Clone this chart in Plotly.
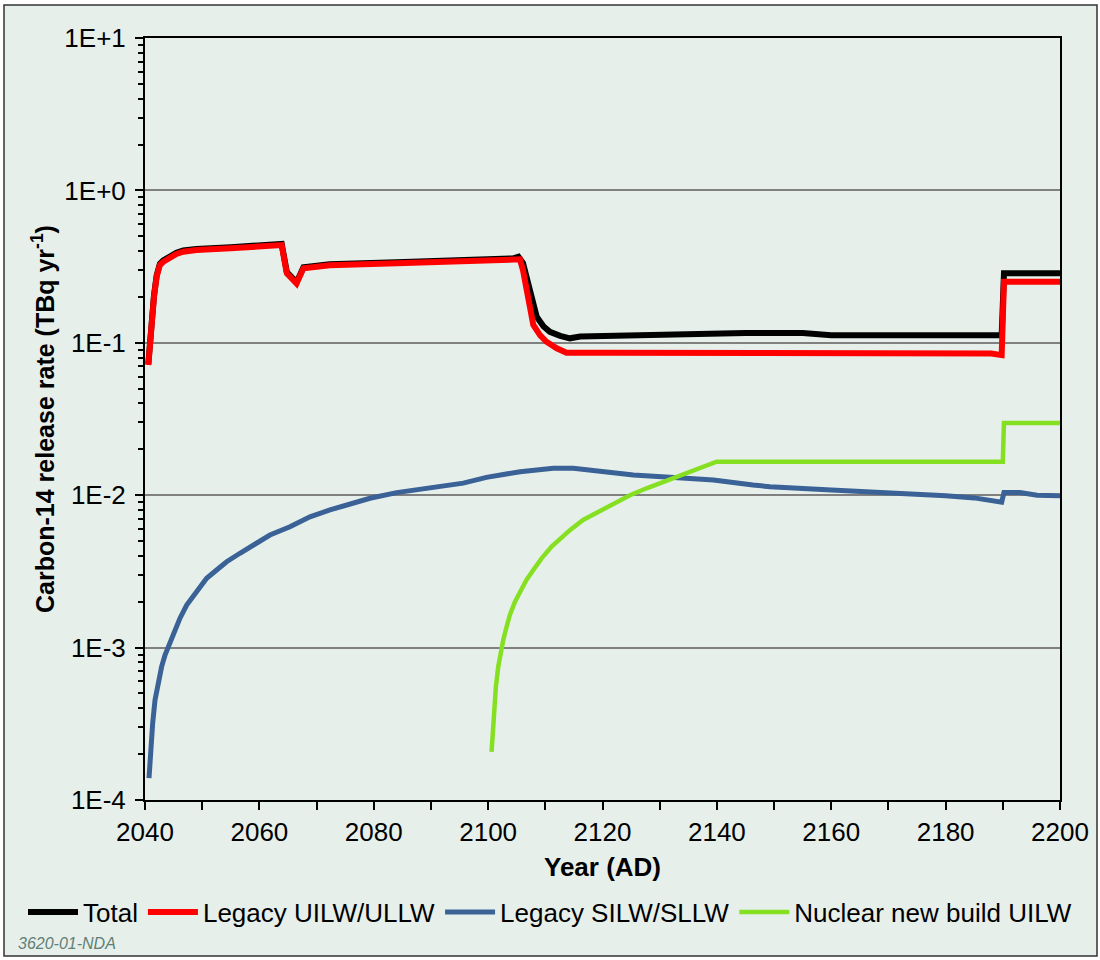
import plotly.graph_objects as go

# ---- Carbon-14 release rate series (TBq/yr) ----
total_year = [2040.58, 2040.87, 2041.17, 2041.57, 2042.04, 2042.6, 2043.2, 2044.4,
              2045.5, 2046.7, 2049.0, 2055, 2060, 2063.9,
              2064.8, 2066.5, 2067.7, 2072.3, 2084, 2095.6, 2104.4, 2105.3,
              2106.1, 2107.3, 2108.5, 2109.7, 2110.8, 2112.6, 2114.3, 2116.1,
              2124.8, 2133.5, 2145, 2155, 2160, 2175, 2189.8, 2190.2, 2200]
total_rate = [0.0725, 0.106, 0.151, 0.204, 0.277, 0.330, 0.347, 0.374,
              0.390, 0.403, 0.413, 0.424, 0.432, 0.445,
              0.291, 0.249, 0.313, 0.328, 0.338, 0.346, 0.358, 0.367,
              0.334, 0.222, 0.148, 0.128, 0.118, 0.111, 0.107, 0.110,
              0.1125, 0.114, 0.116, 0.116, 0.112, 0.112, 0.112, 0.286, 0.286]

uilw_year = [2040.58, 2040.87, 2041.17, 2041.57, 2042.04, 2042.6, 2043.2, 2044.4,
             2045.5, 2046.7, 2049.0, 2055, 2060, 2063.9,
             2064.8, 2066.5, 2067.7, 2072.3, 2084, 2095.6, 2104.1, 2105.56,
             2106.1, 2107.0, 2107.9, 2109.1, 2110.2, 2112.0, 2113.7, 2120,
             2140, 2160, 2180, 2188, 2189.8, 2190.2, 2200]
uilw_rate = [0.0714, 0.104, 0.148, 0.200, 0.272, 0.324, 0.340, 0.367,
             0.383, 0.396, 0.406, 0.417, 0.426, 0.438,
             0.286, 0.245, 0.308, 0.323, 0.333, 0.340, 0.349, 0.353,
             0.300, 0.200, 0.131, 0.112, 0.1016, 0.092, 0.086, 0.086,
             0.086, 0.086, 0.086, 0.085, 0.083, 0.252, 0.252]

silw_year = [2040.70, 2040.87, 2041.05, 2041.34, 2041.75, 2042.33, 2042.91, 2043.5,
             2044.08, 2044.95, 2046.12, 2047.29, 2049.04, 2050.78, 2052.53, 2054.28,
             2056.6, 2058.9, 2061.85, 2065.35, 2068.85, 2072.34, 2075.84, 2079.34,
             2084.0, 2089.8, 2095.65, 2099.7, 2102.6, 2105.6, 2108.5, 2111.4,
             2114.9, 2117.2, 2120.1, 2125.4, 2131.8, 2139.4, 2146.3, 2149.3,
             2160, 2170, 2180, 2185, 2189.8, 2190.2, 2193, 2196, 2200]
silw_rate = [1.39e-4, 1.83e-4, 2.36e-4, 3.18e-4, 4.53e-4, 6.12e-4, 7.5e-4, 8.94e-4,
             1.01e-3, 1.24e-3, 1.56e-3, 1.9e-3, 2.33e-3, 2.85e-3, 3.23e-3, 3.66e-3,
             4.16e-3, 4.71e-3, 5.48e-3, 6.21e-3, 7.22e-3, 8.0e-3, 8.76e-3, 9.55e-3,
             1.04e-2, 1.11e-2, 1.2e-2, 1.31e-2, 1.377e-2, 1.426e-2, 1.462e-2, 1.5e-2,
             1.5e-2, 1.462e-2, 1.426e-2, 1.358e-2, 1.31e-2, 1.26e-2, 1.166e-2, 1.138e-2,
             1.08e-2, 1.04e-2, 9.9e-3, 9.6e-3, 9.0e-3, 1.04e-2, 1.04e-2, 1.0e-2, 9.9e-3]

nnb_year = [2100.6, 2100.78, 2101.0, 2101.36, 2101.77, 2102.18, 2102.64, 2103.23,
            2103.8, 2104.7, 2105.56, 2106.7, 2107.9, 2109.35, 2111.1, 2112.55,
            2114.3, 2116.6, 2119.0, 2121.9, 2124.8, 2127.7, 2131.8, 2135.3, 2139.95,
            2190, 2190.2, 2200]
nnb_rate = [2.07e-4, 2.74e-4, 3.71e-4, 5.55e-4, 7.5e-4, 9.18e-4, 1.12e-3, 1.37e-3,
            1.64e-3, 2.0e-3, 2.33e-3, 2.78e-3, 3.23e-3, 3.85e-3, 4.6e-3, 5.2e-3,
            5.9e-3, 6.88e-3, 7.68e-3, 8.85e-3, 1.0e-2, 1.11e-2, 1.27e-2, 1.43e-2, 1.66e-2,
            1.66e-2, 2.98e-2, 2.98e-2]

series_names = ["Total", "Legacy UILW/ULLW", "Legacy SILW/SLLW", "Nuclear new build UILW"]

# ---- axis ticks ----
y_tick_vals = [1e-4, 1e-3, 1e-2, 1e-1, 1e0, 1e1]
y_tick_text = ["1E-4", "1E-3", "1E-2", "1E-1", "1E+0", "1E+1"]
y_minor_vals = [m * 10.0 ** e for e in range(-4, 1) for m in range(2, 10)]
x_tick_vals = [2040, 2060, 2080, 2100, 2120, 2140, 2160, 2180, 2200]
x_minor_vals = [2050, 2070, 2090, 2110, 2130, 2150, 2170, 2190]

FONT = "Liberation Sans, Arial, sans-serif"
PAGE_BG = "#E7EFEB"

fig = go.Figure()
styles = [("#000000", 6), ("#FF0000", 6), ("#3A6296", 5), ("#86E022", 4.5)]
data = [(total_year, total_rate), (uilw_year, uilw_rate),
        (silw_year, silw_rate), (nnb_year, nnb_rate)]
# the last series sits on the twin log axis (identical range) that carries minor ticks
y_refs = ["y", "y", "y", "y2"]
for (xs, ys), name, (col, w), yref in zip(data, series_names, styles, y_refs):
    fig.add_trace(go.Scatter(x=xs, y=ys, mode="lines", name=name, yaxis=yref,
                             line=dict(color=col, width=w)))

W, H = 1100, 960
L, R, T, B = 145, 40, 38, 160
pw, ph = W - L - R, H - T - B


def px_x(px):
    return (px - L) / pw


def px_y(py):
    return (H - B - py) / ph


fig.update_layout(
    width=W, height=H,
    margin=dict(l=L, r=R, t=T, b=B),
    paper_bgcolor="white",
    plot_bgcolor="white",
    font=dict(family=FONT, size=26, color="black"),
    showlegend=True,
    legend=dict(orientation="h", x=px_x(23), xanchor="left",
                y=px_y(912), yanchor="middle",
                font=dict(size=26), itemwidth=50,
                bgcolor="rgba(0,0,0,0)", tracegroupgap=0),
    xaxis=dict(range=[2040, 2200], tickmode="array", tickvals=x_tick_vals,
               ticks="outside", ticklen=8, tickwidth=2, tickcolor="black",
               minor=dict(tickmode="array", tickvals=x_minor_vals, ticks="outside",
                          ticklen=8, tickwidth=2, tickcolor="black", showgrid=False),
               showline=True, linecolor="black", linewidth=2, mirror=True,
               showgrid=False, zeroline=False, tickfont=dict(size=26),
               title=dict(text="<b>Year (AD)</b>", font=dict(size=26), standoff=12)),
    yaxis=dict(type="log", range=[-4, 1], tickmode="array",
               tickvals=y_tick_vals, ticktext=y_tick_text,
               ticks="outside", ticklen=8, tickwidth=2, tickcolor="black",
               ticklabelstandoff=4, tickfont=dict(size=26),
               showline=True, linecolor="black", linewidth=2, mirror=True,
               showgrid=True, gridcolor="#808080", gridwidth=2, zeroline=False,
               title=dict(text="<b>Carbon-14 release rate (TBq yr<sup>-1</sup>)</b>",
                          font=dict(size=25), standoff=3)),
    yaxis2=dict(type="log", range=[-4, 1], overlaying="y", anchor="x", side="left",
                tickmode="array", tickvals=y_minor_vals, showticklabels=False,
                ticks="outside", ticklen=6, tickwidth=2, tickcolor="black",
                showgrid=False, showline=False, zeroline=False),
)

# page panel with its dark outline
fig.add_shape(type="rect", xref="paper", yref="paper", layer="below",
              x0=px_x(4), x1=px_x(1097), y0=px_y(956), y1=px_y(5),
              fillcolor=PAGE_BG, line=dict(color="#333333", width=1.5))

fig.add_annotation(text="<i>3620-01-NDA</i>", xref="paper", yref="paper",
                   x=px_x(16), y=px_y(943), xanchor="left", yanchor="middle",
                   showarrow=False, font=dict(size=16, color="#5F8075"))

fig.write_html("out.html")
